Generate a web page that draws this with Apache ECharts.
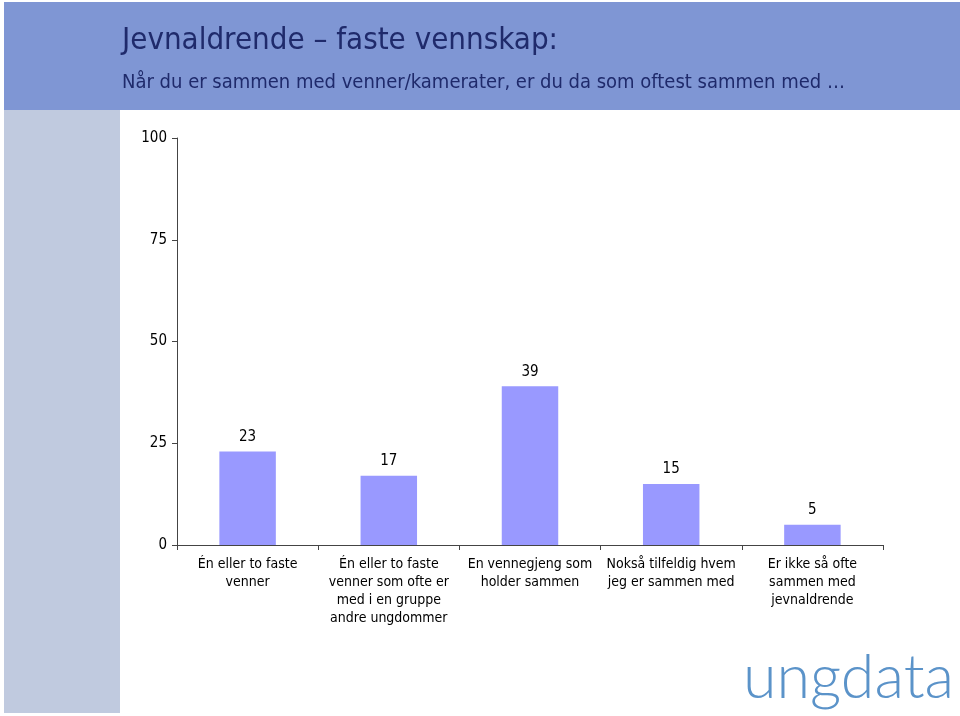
<!DOCTYPE html>
<html>
<head>
<meta charset="utf-8">
<script src="https://cdn.jsdelivr.net/npm/echarts@6/dist/echarts.min.js"></script>
<style>html,body{margin:0;padding:0;background:#fff}#c{width:960px;height:716px}</style>
</head>
<body>
<div id="c"></div>
<script>
const categories = [
  "Én eller to faste\nvenner",
  "Én eller to faste\nvenner som ofte er\nmed i en gruppe\nandre ungdommer",
  "En vennegjeng som\nholder sammen",
  "Nokså tilfeldig hvem\njeg er sammen med",
  "Er ikke så ofte\nsammen med\njevnaldrende"
];
const values = [23, 17, 39, 15, 5];
const yTicks = [0, 25, 50, 75, 100];
const titleText = "Jevnaldrende – faste vennskap:";
const subtitleText = "Når du er sammen med venner/kamerater, er du da som oftest sammen med …";

const font = "'DejaVu Sans Condensed', 'DejaVu Sans', sans-serif";
const chart = echarts.init(document.getElementById('c'), null, {renderer: 'canvas'});
chart.setOption({
  animation: false,
  backgroundColor: '#ffffff',
  graphic: [
    {type: 'rect', z: -10, shape: {x: 4, y: 2, width: 956, height: 108}, style: {fill: '#7F96D4'}},
    {type: 'rect', z: -10, shape: {x: 4, y: 110, width: 116, height: 603}, style: {fill: '#C0CADF'}},
    {type: 'text', left: 122, top: 25, style: {text: titleText, font: "31px " + font, fill: '#1F2A6B'}},
    {type: 'text', left: 122, top: 73, style: {text: subtitleText, font: "20px " + font, fill: '#1F2A6B'}},
    {type: 'text', left: 743, top: 648, style: {text: 'ungdata', font: "300 61px 'Lato', 'DejaVu Sans', sans-serif", fill: '#5B93C9'}}
  ],
  grid: {left: 177, right: 77, top: 138, bottom: 171, containLabel: false},
  xAxis: {
    type: 'category',
    data: categories,
    axisLine: {lineStyle: {color: '#444', width: 1}},
    axisTick: {show: true, alignWithLabel: false, length: 5, lineStyle: {color: '#444'}},
    axisLabel: {interval: 0, color: '#000', fontFamily: font, fontSize: 14, lineHeight: 18, margin: 10}
  },
  yAxis: {
    type: 'value',
    min: 0, max: 100, interval: 25,
    splitLine: {show: false},
    axisLine: {show: true, lineStyle: {color: '#444', width: 1}},
    axisTick: {show: true, length: 5, lineStyle: {color: '#444'}},
    axisLabel: {color: '#000', fontFamily: font, fontSize: 15, margin: 10}
  },
  series: [{
    type: 'bar',
    data: values,
    barWidth: '40%',
    itemStyle: {color: '#9999FF'},
    label: {show: true, position: 'top', distance: 7, color: '#000', fontFamily: font, fontSize: 15}
  }]
});
</script>
</body>
</html>
